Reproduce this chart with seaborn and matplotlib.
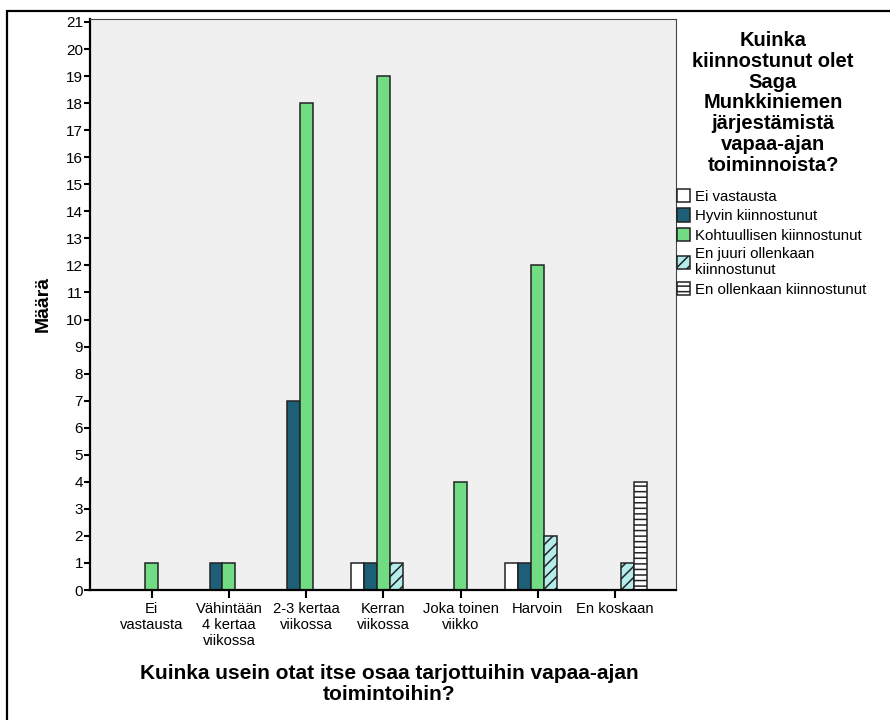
import numpy as np
import pandas as pd
import matplotlib
matplotlib.use("Agg")
import matplotlib.pyplot as plt
from matplotlib.patches import Patch, Rectangle
import seaborn as sns

# Categories on the x axis and their wrapped tick labels
categories = ["Ei vastausta", "Vähintään 4 kertaa viikossa", "2-3 kertaa viikossa",
              "Kerran viikossa", "Joka toinen viikko", "Harvoin", "En koskaan"]
tick_labels = ["Ei\nvastausta", "Vähintään\n4 kertaa\nviikossa", "2-3 kertaa\nviikossa",
               "Kerran\nviikossa", "Joka toinen\nviikko", "Harvoin", "En koskaan"]

# Legend groups (hue)
series = ["Ei vastausta", "Hyvin kiinnostunut", "Kohtuullisen kiinnostunut",
          "En juuri ollenkaan kiinnostunut", "En ollenkaan kiinnostunut"]
legend_labels = ["Ei vastausta", "Hyvin kiinnostunut", "Kohtuullisen kiinnostunut",
                 "En juuri ollenkaan\nkiinnostunut", "En ollenkaan kiinnostunut"]

# Counts per category, one list per group
ei_vastausta = [0, 0, 0, 1, 0, 1, 0]
hyvin = [0, 1, 7, 1, 0, 1, 0]
kohtuullisen = [1, 1, 18, 19, 4, 12, 0]
en_juuri = [0, 0, 0, 1, 0, 2, 1]
en_ollenkaan = [0, 0, 0, 0, 0, 0, 4]

colors = {"Ei vastausta": "#ffffff", "Hyvin kiinnostunut": "#1e5f78",
          "Kohtuullisen kiinnostunut": "#72dc84",
          "En juuri ollenkaan kiinnostunut": "#b4ecec",
          "En ollenkaan kiinnostunut": "#ffffff"}
hatches = {"Ei vastausta": "", "Hyvin kiinnostunut": "", "Kohtuullisen kiinnostunut": "",
           "En juuri ollenkaan kiinnostunut": "///", "En ollenkaan kiinnostunut": "---"}

counts = [ei_vastausta, hyvin, kohtuullisen, en_juuri, en_ollenkaan]
rows = []
for s, vals in zip(series, counts):
    for c, v in zip(categories, vals):
        rows.append((c, s, v))
df = pd.DataFrame(rows, columns=["kategoria", "vastaus", "maara"])
df = df[df["maara"] > 0]

sns.set_style("white")
plt.rcParams["font.family"] = ["Liberation Sans", "DejaVu Sans"]
plt.rcParams["hatch.linewidth"] = 1.1
plt.rcParams["hatch.color"] = "#222222"
for key in ["text.color", "axes.labelcolor", "xtick.color", "ytick.color"]:
    plt.rcParams[key] = "black"

fig = plt.figure(figsize=(8.9, 7.2), dpi=100)
ax = fig.add_axes([90 / 890, 1 - 590 / 720, 586 / 890, 571 / 720])
ax.set_facecolor("#f0f0f0")

bar_width = 0.84
sns.barplot(data=df, x="kategoria", y="maara", hue="vastaus", order=categories,
            hue_order=series, palette=colors, width=bar_width, gap=0, errorbar=None,
            edgecolor="#222222", linewidth=1.1, saturation=1, legend=False, ax=ax)

# hatch by dodge slot
slot_w = bar_width / len(series)
for bar in ax.patches:
    xc = bar.get_x() + bar.get_width() / 2
    slot = int(round((xc - round(xc)) / slot_w)) + len(series) // 2
    bar.set_hatch(hatches[series[slot]])

ax.set_xlim(-0.80, 6.79)
ax.set_ylim(0, 21.11)
ax.set_yticks(range(0, 22))
ax.set_xticks(range(len(categories)))
ax.set_xticklabels(tick_labels, fontsize=10.6, linespacing=1.2)
ax.tick_params(axis="y", labelsize=11, length=4, width=1.5, pad=1, direction="out", left=True)
ax.tick_params(axis="x", length=6, width=1.5, pad=2.5, direction="out", bottom=True)

for side in ["left", "bottom"]:
    ax.spines[side].set_linewidth(1.6)
    ax.spines[side].set_color("black")
for side in ["top", "right"]:
    ax.spines[side].set_linewidth(0.8)
    ax.spines[side].set_color("#444444")

ax.set_xlabel("Kuinka usein otat itse osaa tarjottuihin vapaa-ajan\ntoimintoihin?",
              fontsize=15, fontweight="bold", linespacing=1.1)
ax.xaxis.set_label_coords(0.51, -0.13)
ax.set_ylabel("Määrä", fontsize=14, fontweight="bold")
ax.yaxis.set_label_coords(-0.066, 0.5)

# legend title and entries
fig.text(773 / 890, 1 - 31 / 720,
         "Kuinka\nkiinnostunut olet\nSaga\nMunkkiniemen\njärjestämistä\nvapaa-ajan\ntoiminnoista?",
         ha="center", va="top", fontsize=14.5, fontweight="bold", linespacing=1.12)
handles = [Patch(facecolor=colors[s], edgecolor="#222222", hatch=hatches[s], linewidth=1.1)
           for s in series]
fig.legend(handles, legend_labels, loc="upper left", bbox_to_anchor=(677 / 890, 1 - 189 / 720),
           frameon=False, fontsize=10.8, handlelength=0.85, handleheight=1.0,
           handletextpad=0.35, labelspacing=0.3, borderpad=0, borderaxespad=0)

# outer frame (left and top edges visible)
fig.patches.append(Rectangle((7 / 890, -0.1), 1.2, 1.1 - 11 / 720, transform=fig.transFigure,
                             fill=False, edgecolor="black", linewidth=1.6))

fig.savefig("out.png", dpi=100)
